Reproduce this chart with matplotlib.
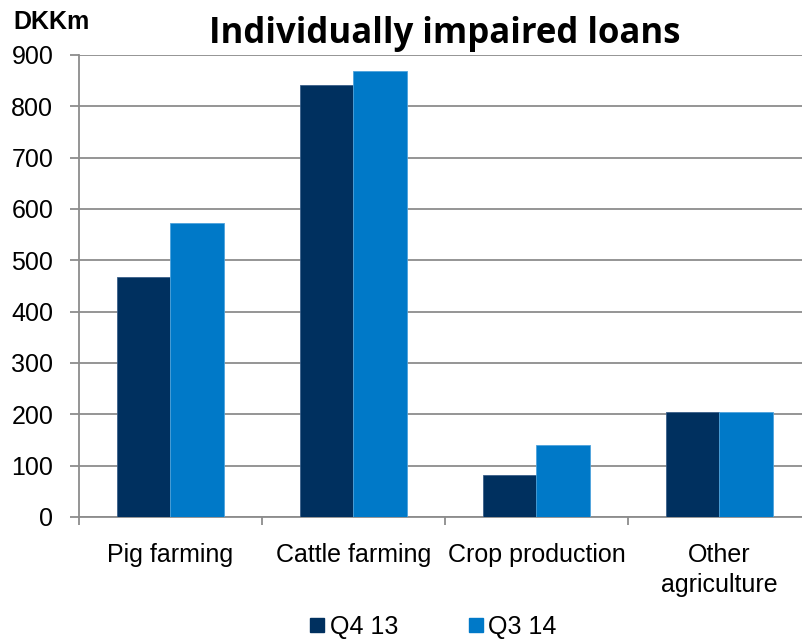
import matplotlib
matplotlib.use("Agg")
import matplotlib.pyplot as plt
import numpy as np
from matplotlib.lines import Line2D

categories = ["Pig farming", "Cattle farming", "Crop production", "Other\nagriculture"]
series_names = ["Q4 13", "Q3 14"]
q4_13 = [467, 841, 82, 205]
q3_14 = [572, 868, 140, 205]
yticks = [0, 100, 200, 300, 400, 500, 600, 700, 800, 900]

colors = ["#00305F", "#0079C8"]
fam = ["Liberation Sans", "DejaVu Sans"]

fig = plt.figure(figsize=(8.03, 6.40), dpi=100)
# axes: left x=79, right ~811, bottom y=517, top y=55
ax = fig.add_axes([79/803, 1-517/640, (811-79)/803, (517-55)/640])

x = np.arange(len(categories))
w = 0.29
ax.bar(x - w/2, q4_13, width=w, color=colors[0], edgecolor="#3A5F8A", linewidth=0.6, zorder=3)
ax.bar(x + w/2, q3_14, width=w, color=colors[1], edgecolor="#4DA3DC", linewidth=0.6, zorder=3)

ax.set_xlim(-0.5, len(categories) - 0.5)
ax.set_ylim(0, 900)
ax.set_yticks(yticks)
ax.set_yticklabels([str(v) for v in yticks], family=fam, fontsize=18)
ax.yaxis.grid(True, color="#8C8C8C", linewidth=1.3, zorder=0)
ax.set_axisbelow(True)

for s in ["top", "right"]:
    ax.spines[s].set_visible(False)
for s in ["left", "bottom"]:
    ax.spines[s].set_color("#8C8C8C")
    ax.spines[s].set_linewidth(1.3)
ax.tick_params(axis="y", length=6.5, width=1.3, color="#8C8C8C", pad=12)

# category labels (no ticks at centers), ticks at boundaries
ax.set_xticks(x)
ax.set_xticklabels(categories, family=fam, fontsize=18, linespacing=1.3, va="top")
ax.tick_params(axis="x", length=0, pad=19)
ax.set_xticks(np.arange(-0.5, len(categories) - 0.4, 1), minor=True)
ax.tick_params(axis="x", which="minor", length=6, width=1.3, color="#8C8C8C")

fig.text(445/803, 1-43/640, "Individually impaired loans", ha="center", va="baseline",
         family=["Open Sans", "DejaVu Sans"], fontweight="bold", fontsize=25)
fig.text(13/803, 1-29/640, "DKKm", ha="left", va="baseline",
         family=fam, fontweight="bold", fontsize=18)

handles = [Line2D([0], [0], marker="s", linestyle="none", markersize=10,
                  markerfacecolor=c, markeredgecolor=c) for c in colors]
fig.legend(handles, series_names, loc="center", bbox_to_anchor=(433/803, 1-627/640),
           ncol=2, frameon=False, prop={"family": fam, "size": 18},
           handletextpad=0.2, columnspacing=2.8, handlelength=0.6,
           borderpad=0, borderaxespad=0)

fig.savefig("out.png", dpi=100)
